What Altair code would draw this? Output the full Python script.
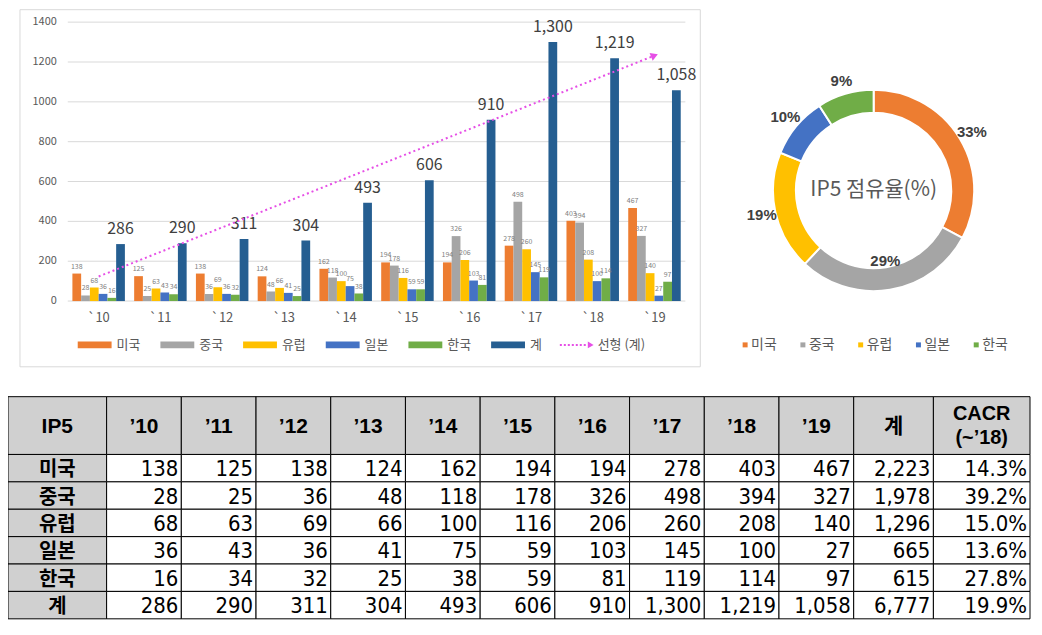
import altair as alt
import pandas as pd

# ---------------- data ----------------
YEARS = ["`10", "`11", "`12", "`13", "`14", "`15", "`16", "`17", "`18", "`19"]
YEARS_T = ["’10", "’11", "’12", "’13", "’14", "’15", "’16", "’17", "’18", "’19"]
SERIES = ["미국", "중국", "유럽", "일본", "한국", "계"]
US = [138, 125, 138, 124, 162, 194, 194, 278, 403, 467]
CN = [28, 25, 36, 48, 118, 178, 326, 498, 394, 327]
EU = [68, 63, 69, 66, 100, 116, 206, 260, 208, 140]
JP = [36, 43, 36, 41, 75, 59, 103, 145, 100, 27]
KR = [16, 34, 32, 25, 38, 59, 81, 119, 114, 97]
TOTAL = [286, 290, 311, 304, 493, 606, 910, 1300, 1219, 1058]
SUMS = [2223, 1978, 1296, 665, 615, 6777]
CACR = ["14.3%", "39.2%", "15.0%", "13.6%", "27.8%", "19.9%"]
Y_TICKS = [0, 200, 400, 600, 800, 1000, 1200, 1400]
TABLE_HEAD = ["IP5"] + YEARS_T + ["계", "CACR\n(~’18)"]

# ---------------- style / layout ----------------
COLORS = ["#ED7D31", "#A5A5A5", "#FFC000", "#4472C4", "#70AD47", "#255E91"]
TREND_COLOR = "#E64FE6"
FK = "Noto Sans CJK KR"
FT = "Liberation Sans, Noto Sans CJK KR"
FN = "Liberation Sans Narrow, DejaVu Sans Condensed, Liberation Sans, Noto Sans CJK KR"
W, H = 1030, 613
COL_W = [99] + [75] * 10 + [80, 97]
ROW_H = [58] + [27.5] * 6
TABLE_TOP = 389

# ---------------- bar chart ----------------
series_vals = [US, CN, EU, JP, KR, TOTAL]
rows = []
for s, vals in zip(SERIES, series_vals):
    for yr, v in zip(YEARS, vals):
        rows.append({"year": yr, "series": s, "value": v})
bars_df = pd.DataFrame(rows)

x_scale = alt.Scale(domain=YEARS, range=[60, 680], paddingInner=0.15, paddingOuter=0.075)
y_scale = alt.Scale(domain=[0, 1400], range=[293, 13], nice=False)
x_enc = alt.X("year:N", sort=YEARS, scale=x_scale, axis=None)
xoff = alt.XOffset("series:N", sort=SERIES, scale=alt.Scale(domain=SERIES, paddingInner=0, paddingOuter=0))
color_bar = alt.Color("series:N", scale=alt.Scale(domain=SERIES, range=COLORS), legend=None)

frame = alt.Chart(pd.DataFrame({"a": [0]})).mark_rect(
    fillOpacity=0, stroke="#D9D9D9", strokeWidth=1
).encode(x=alt.value(12), x2=alt.value(695), y=alt.value(0.5), y2=alt.value(359))

ticks_df = pd.DataFrame({"tick": Y_TICKS})
grid = alt.Chart(ticks_df).mark_rule(color="#D9D9D9", strokeWidth=1).encode(
    y=alt.Y("tick:Q", scale=y_scale, axis=None), x=alt.value(60), x2=alt.value(680)
)
ylabels = alt.Chart(ticks_df).mark_text(
    align="right", baseline="middle", fontSize=11, color="#595959", font=FK
).encode(y=alt.Y("tick:Q", scale=y_scale, axis=None), x=alt.value(49), text="tick:Q")

bars = alt.Chart(bars_df).mark_bar(opacity=1).encode(
    x=x_enc, xOffset=xoff, y=alt.Y("value:Q", scale=y_scale, axis=None), color=color_bar
)
small_lbl = alt.Chart(bars_df).transform_filter("datum.series != '계'").mark_text(
    fontSize=7, color="#808080", baseline="bottom", dy=-4, font=FK
).encode(x=x_enc, xOffset=xoff, y=alt.Y("value:Q", scale=y_scale, axis=None), text="value:Q")
tot_lbl = alt.Chart(bars_df).transform_filter("datum.series == '계'").mark_text(
    fontSize=16, color="#404040", baseline="bottom", dy=-7, font=FK
).encode(x=x_enc, xOffset=xoff, y=alt.Y("value:Q", scale=y_scale, axis=None),
         text=alt.Text("value:Q", format=","))
xlabels = alt.Chart(pd.DataFrame({"year": YEARS})).mark_text(
    fontSize=13, color="#595959", baseline="middle", font=FK
).encode(x=x_enc, y=alt.value(310), text="year:N")

bar_comp = alt.layer(grid, ylabels, bars, small_lbl, tot_lbl, xlabels)

# trendline (linear regression of totals)
trend_df = pd.DataFrame({"idx": list(range(1, len(YEARS) + 1)), "total": TOTAL})
tx = alt.Scale(domain=[1, len(YEARS)], range=[91, 649])
trend_base = alt.Chart(trend_df).transform_regression("idx", "total", extent=[1, len(YEARS)])
trend_line = trend_base.mark_line(color=TREND_COLOR, strokeDash=[2, 3], strokeWidth=2).encode(
    x=alt.X("idx:Q", scale=tx, axis=None), y=alt.Y("total:Q", scale=y_scale, axis=None)
)
trend_arrow = trend_base.transform_filter(f"datum.idx == {len(YEARS)}").mark_point(
    shape="triangle-up", filled=True, size=70, angle=68, color=TREND_COLOR, opacity=1
).encode(x=alt.X("idx:Q", scale=tx, axis=None), y=alt.Y("total:Q", scale=y_scale, axis=None))
trend_comp = alt.layer(trend_line, trend_arrow)

# bar legend
leg_df = pd.DataFrame({"series": SERIES, "li": list(range(len(SERIES)))})
lx = alt.Scale(domain=[0, 5], range=[87, 87 + 83 * 5])
leg_rect = alt.Chart(leg_df).mark_tick(orient="horizontal", size=34, thickness=7, opacity=1).encode(
    x=alt.X("li:Q", scale=lx, axis=None), y=alt.value(337), color=color_bar
)
leg_txt = alt.Chart(leg_df).mark_text(
    align="left", baseline="middle", fontSize=13, color="#595959", dx=22, font=FK
).encode(x=alt.X("li:Q", scale=lx, axis=None), y=alt.value(337), text="series:N")
leg_trend_line = alt.Chart(pd.DataFrame({"a": [0]})).mark_rule(
    color=TREND_COLOR, strokeDash=[2, 2], strokeWidth=2
).encode(x=alt.value(554), x2=alt.value(582), y=alt.value(337))
leg_trend_arrow = alt.Chart(pd.DataFrame({"a": [0]})).mark_point(
    shape="triangle-right", filled=True, size=45, color=TREND_COLOR, opacity=1
).encode(x=alt.value(585), y=alt.value(337))
leg_trend_txt = alt.Chart(pd.DataFrame({"t": ["선형 (계)"]})).mark_text(
    align="left", baseline="middle", fontSize=13, color="#595959", font=FK
).encode(x=alt.value(592), y=alt.value(337), text="t:N")
leg_comp = alt.layer(leg_rect, leg_txt)

# ---------------- donut ----------------
NAMES5 = SERIES[:5]
donut_df = pd.DataFrame({"name": NAMES5, "total": SUMS[:5], "idx": list(range(5))})
theta_scale = alt.Scale(domain=[0, 1], range=[0, 6.283185307179586])
color_d = alt.Color("name:N", scale=alt.Scale(domain=NAMES5, range=COLORS[:5]), legend=None)
CX, CY = 869, 182
donut_base = alt.Chart(donut_df).transform_joinaggregate(
    grand="sum(total)"
).transform_window(
    cum="sum(total)", sort=[alt.SortField("idx")], frame=[None, 0]
).transform_calculate(
    start="(datum.cum - datum.total) / datum.grand",
    end="datum.cum / datum.grand",
    mid="(datum.cum - datum.total / 2) / datum.grand",
    pct="format(datum.total / datum.grand, '.0%')",
)
arcs = donut_base.mark_arc(radius=101, innerRadius=78, stroke="white", strokeWidth=2).encode(
    theta=alt.Theta("start:Q", scale=theta_scale), theta2="end:Q", color=color_d,
    x=alt.value(CX), y=alt.value(CY)
)
d_lbl_out = donut_base.transform_filter("datum.name != '중국'").mark_text(
    radius=115, fontSize=15, fontWeight="bold", color="#404040", font=FT
).encode(theta=alt.Theta("mid:Q", scale=theta_scale), text="pct:N", x=alt.value(CX), y=alt.value(CY))
d_lbl_in = donut_base.transform_filter("datum.name == '중국'").mark_text(
    radius=72, fontSize=15, fontWeight="bold", color="#404040", font=FT
).encode(theta=alt.Theta("mid:Q", scale=theta_scale), text="pct:N", x=alt.value(CX), y=alt.value(CY))
d_center = alt.Chart(pd.DataFrame({"t": ["IP5 점유율(%)"]})).mark_text(
    fontSize=21, color="#595959", font=FK, baseline="middle"
).encode(x=alt.value(CX), y=alt.value(CY), text="t:N")
donut_comp = alt.layer(arcs, d_lbl_out, d_lbl_in)

dleg_df = pd.DataFrame({"name": NAMES5, "li": list(range(5))})
dlx = alt.Scale(domain=[0, 4], range=[740, 972])
dleg_sq = alt.Chart(dleg_df).mark_square(size=25, opacity=1).encode(
    x=alt.X("li:Q", scale=dlx, axis=None), y=alt.value(337), color=color_d
)
dleg_txt = alt.Chart(dleg_df).mark_text(
    align="left", baseline="middle", fontSize=14, color="#595959", dx=6, font=FK
).encode(x=alt.X("li:Q", scale=dlx, axis=None), y=alt.value(337), text="name:N")
dleg_comp = alt.layer(dleg_sq, dleg_txt)

# ---------------- table ----------------
col_edges = [0]
for w in COL_W:
    col_edges.append(col_edges[-1] + w)
row_edges = [0]
for h in ROW_H:
    row_edges.append(row_edges[-1] + h)

cells = []
last_c = len(COL_W) - 1
for r in range(len(ROW_H)):
    for c in range(len(COL_W)):
        if r == 0:
            txt, kind = TABLE_HEAD[c], ("head2" if c == last_c else "head")
        elif c == 0:
            txt, kind = SERIES[r - 1], "rowhead"
        elif c <= len(YEARS):
            txt, kind = f"{series_vals[r - 1][c - 1]:,}", "val"
        elif c == len(YEARS) + 1:
            txt, kind = f"{SUMS[r - 1]:,}", "val"
        else:
            txt, kind = CACR[r - 1], "val"
        cells.append({
            "x0": col_edges[c], "x1": col_edges[c + 1],
            "xc": (col_edges[c] + col_edges[c + 1]) / 2,
            "y0": row_edges[r], "y1": row_edges[r + 1],
            "yc": (row_edges[r] + row_edges[r + 1]) / 2,
            "txt": txt, "kind": kind,
            "fillk": "white" if kind == "val" else "gray",
        })
cells_df = pd.DataFrame(cells)
TW, TH = col_edges[-1], row_edges[-1]
tsx = alt.Scale(domain=[0, TW], range=[0, TW], nice=False, zero=False)
tsy = alt.Scale(domain=[0, TH], range=[TABLE_TOP, TABLE_TOP + TH], nice=False, zero=False)
txe = alt.X("xc:Q", scale=tsx, axis=None)
tye = alt.Y("yc:Q", scale=tsy, axis=None)

t_rect = alt.Chart(cells_df).mark_rect(stroke="black", strokeWidth=1).encode(
    x=alt.X("x0:Q", scale=tsx, axis=None), x2="x1:Q",
    y=alt.Y("y0:Q", scale=tsy, axis=None), y2="y1:Q",
    fill=alt.Fill("fillk:N", scale=alt.Scale(domain=["gray", "white"], range=["#D0D0D0", "#FFFFFF"]), legend=None),
)
t_head = alt.Chart(cells_df).transform_filter("datum.kind == 'head'").mark_text(
    fontSize=21, fontWeight="bold", color="black", font=FT, baseline="middle", dy=1
).encode(x=txe, y=tye, text="txt:N")
t_head2 = alt.Chart(cells_df).transform_filter("datum.kind == 'head2'").mark_text(
    fontSize=20, fontWeight="bold", color="black", font=FT, baseline="middle",
    lineBreak="\n", lineHeight=25, dy=-12
).encode(x=txe, y=tye, text="txt:N")
t_rowhead = alt.Chart(cells_df).transform_filter("datum.kind == 'rowhead'").mark_text(
    fontSize=20, fontWeight="bold", color="black", font=FK, baseline="middle", dy=2
).encode(x=txe, y=tye, text="txt:N")
t_val = alt.Chart(cells_df).transform_filter("datum.kind == 'val'").mark_text(
    fontSize=22, color="black", font=FN, baseline="middle", align="right", dx=-3, dy=1
).encode(x=alt.X("x1:Q", scale=tsx, axis=None), y=tye, text="txt:N")
table_comp = alt.layer(t_rect, t_head, t_head2, t_rowhead, t_val)

chart = alt.layer(
    frame, bar_comp, trend_comp, leg_comp, leg_trend_line, leg_trend_arrow, leg_trend_txt,
    donut_comp, d_center, dleg_comp, table_comp
).resolve_scale(
    x="independent", y="independent", color="independent", theta="independent",
    xOffset="independent", fill="independent"
).properties(
    width=W, height=H, padding=0, autosize=alt.AutoSizeParams(type="none"), background="white"
).configure_view(stroke=None)

chart.save("out.html", embed_options={"renderer": "svg", "actions": False})
